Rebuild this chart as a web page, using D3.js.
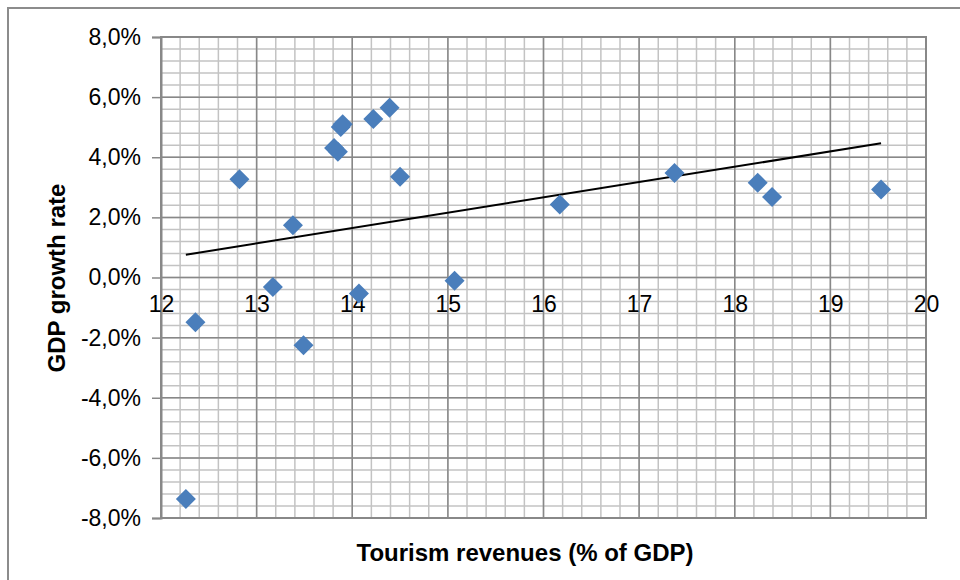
<!DOCTYPE html>
<html>
<head>
<meta charset="utf-8">
<script src="https://cdn.jsdelivr.net/npm/d3@7"></script>
<style>
  html, body { margin: 0; padding: 0; background: #fff; }
  svg { display: block; font-family: "Liberation Sans", Arial, sans-serif; }
</style>
</head>
<body>
<svg id="chart" width="960" height="580"></svg>
<script>
// Tourism revenues (% of GDP) per observation
const tourism = [12.26, 12.36, 12.82, 13.17, 13.38, 13.49, 13.81, 13.85, 13.88, 13.90,
                 14.22, 14.39, 14.50, 14.07, 15.07, 16.17, 17.37, 18.24, 18.39, 19.53];
// GDP growth rate (%) for the same observations
const gdpGrowth = [-7.37, -1.49, 3.27, -0.32, 1.74, -2.25, 4.31, 4.18, 5.01, 5.10,
                   5.27, 5.65, 3.35, -0.53, -0.11, 2.43, 3.48, 3.15, 2.68, 2.93];

const xTicks = [12, 13, 14, 15, 16, 17, 18, 19, 20];
const yTicks = [-8, -6, -4, -2, 0, 2, 4, 6, 8];
const xMinorStep = 0.2;
const yMinorStep = 0.4;

const svg = d3.select("#chart");
const plot = { left: 161, right: 926, top: 37, bottom: 518 };

const x = d3.scaleLinear().domain([12, 20]).range([plot.left, plot.right]);
const y = d3.scaleLinear().domain([-8, 8]).range([plot.bottom, plot.top]);

// outer chart frame
svg.append("path")
  .attr("d", "M8,580 V8 H960")
  .attr("fill", "none")
  .attr("stroke", "#8c8c8c")
  .attr("stroke-width", 2);

// minor grid
const xMinor = d3.range(12, 20.0001, xMinorStep);
const yMinor = d3.range(-8, 8.0001, yMinorStep);
const grid = svg.append("g");
grid.selectAll(".xm").data(xMinor).join("line")
  .attr("x1", d => x(d)).attr("x2", d => x(d))
  .attr("y1", plot.top).attr("y2", plot.bottom)
  .attr("stroke", "#c3c3c3").attr("stroke-width", 1.5);
grid.selectAll(".ym").data(yMinor).join("line")
  .attr("y1", d => y(d)).attr("y2", d => y(d))
  .attr("x1", plot.left).attr("x2", plot.right)
  .attr("stroke", "#c3c3c3").attr("stroke-width", 1.5);

// major grid
grid.selectAll(".xM").data(xTicks).join("line")
  .attr("x1", d => x(d)).attr("x2", d => x(d))
  .attr("y1", plot.top).attr("y2", plot.bottom)
  .attr("stroke", "#888").attr("stroke-width", 1.5);
grid.selectAll(".yM").data(yTicks).join("line")
  .attr("y1", d => y(d)).attr("y2", d => y(d))
  .attr("x1", plot.left).attr("x2", plot.right)
  .attr("stroke", "#888").attr("stroke-width", 1.5);

// plot area border
svg.append("rect")
  .attr("x", plot.left).attr("y", plot.top)
  .attr("width", plot.right - plot.left).attr("height", plot.bottom - plot.top)
  .attr("fill", "none").attr("stroke", "#888").attr("stroke-width", 2);

// y axis, comma decimal and plain hyphen for negatives
const fmtPct = d => d3.format(".1f")(d).replace("\u2212", "-").replace(".", ",") + "%";
const yAxis = d3.axisLeft(y).tickValues(yTicks).tickSize(9).tickPadding(11).tickFormat(fmtPct);
const gy = svg.append("g").attr("transform", `translate(${plot.left},0)`).call(yAxis);
gy.select(".domain").attr("stroke", "#888").attr("stroke-width", 2);
gy.selectAll(".tick line").attr("stroke", "#888").attr("stroke-width", 1.5);
gy.selectAll(".tick text").attr("font-size", 23).attr("fill", "#000")
  .attr("font-family", "Liberation Sans, Arial, sans-serif");

// x axis labels placed on the zero line
const xAxis = d3.axisBottom(x).tickValues(xTicks).tickSize(0).tickPadding(18).tickFormat(d3.format("d"));
const gx = svg.append("g").attr("transform", `translate(0,${y(0)})`).call(xAxis);
gx.select(".domain").remove();
gx.selectAll(".tick text").attr("font-size", 23).attr("fill", "#000")
  .attr("font-family", "Liberation Sans, Arial, sans-serif");

// linear trend line (least squares)
const mx = d3.mean(tourism), my = d3.mean(gdpGrowth);
const sxy = d3.sum(tourism, (v, i) => (v - mx) * (gdpGrowth[i] - my));
const sxx = d3.sum(tourism, v => (v - mx) * (v - mx));
const slope = sxy / sxx, intercept = my - slope * mx;
const [x0, x1] = d3.extent(tourism);
svg.append("line")
  .attr("x1", x(x0)).attr("y1", y(intercept + slope * x0))
  .attr("x2", x(x1)).attr("y2", y(intercept + slope * x1))
  .attr("stroke", "#000").attr("stroke-width", 2);

// diamond markers
const diamond = d3.symbol().type(d3.symbolSquare).size(200);
svg.append("g").selectAll("path").data(tourism).join("path")
  .attr("d", diamond)
  .attr("transform", (d, i) => `translate(${x(d)},${y(gdpGrowth[i])}) rotate(45)`)
  .attr("fill", "#4a7ebb");

// axis titles
svg.append("text")
  .attr("x", 525).attr("y", 561)
  .attr("text-anchor", "middle")
  .attr("font-size", 24).attr("font-weight", "bold")
  .text("Tourism revenues (% of GDP)");

svg.append("text")
  .attr("transform", "translate(65,278) rotate(-90)")
  .attr("text-anchor", "middle")
  .attr("font-size", 24).attr("font-weight", "bold")
  .text("GDP growth rate");
</script>
</body>
</html>
